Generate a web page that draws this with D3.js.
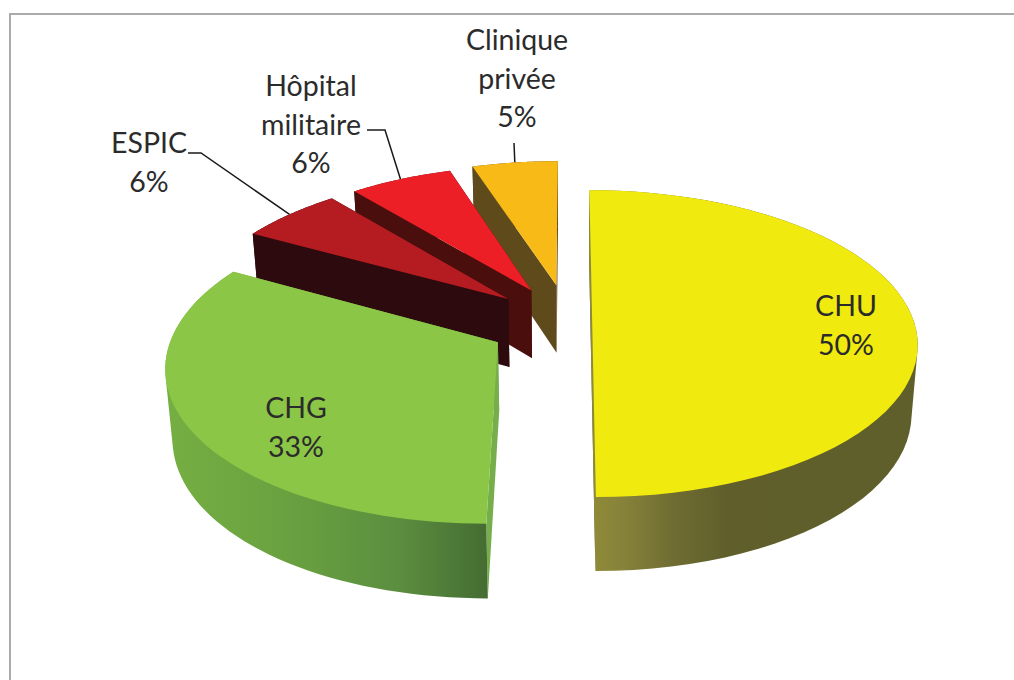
<!DOCTYPE html>
<html>
<head>
<meta charset="utf-8">
<script src="https://cdn.jsdelivr.net/npm/d3@7"></script>
<style>
  html, body { margin: 0; padding: 0; background: #fff; overflow: hidden; }
  text { font-family: Lato, "Open Sans", sans-serif; font-size: 28.5px; fill: #2b2b2b; }
</style>
</head>
<body>
<div id="chart"></div>
<script>
// chart values
const categories = ["CHU", "CHG", "ESPIC", "Hôpital militaire", "Clinique privée"];
const values = [50, 33, 6, 6, 5];
const labelLines = [["CHU", "50%"], ["CHG", "33%"], ["ESPIC", "6%"], ["Hôpital", "militaire", "6%"], ["Clinique", "privée", "5%"]];

// colours for top, cut faces and outer wall of every slice
const topColors = ["#f0ea0e", "#8cc646", "#b41c22", "#ed1f26", "#f8ba16"];
const faceColors = ["#67652c", "#76ae4b", "#2d0a0d", "#4a0e0d", "#5f4a1b"];

// how far each slice is pulled out of the pie
const explode = [0.072, 0.252, 0.25, 0.25, 0.26];

// set svg dimensions
const svgWidth = 1014;
const svgHeight = 680;

let svg = d3.select("#chart")
  .append("svg")
  .attr("width", svgWidth)
  .attr("height", svgHeight);

// perspective of the pie, fitted on the reference
const vanishX = 569, vanishY = -771;
const radiusX = 322, planeD = 1093.5, tilt = 0.1377, depth = 68.7, shrink = 0.982;

function project(i, angle, r, bottom) {
  const mid = (slices[i].startAngle + slices[i].endAngle) / 2;
  const X = r * Math.sin(angle) + explode[i] * Math.sin(mid);
  const V = r * Math.cos(angle) + explode[i] * Math.cos(mid);
  const w = 1 + tilt * V;
  const x = radiusX * X / w;
  const y = vanishY + planeD / w;
  if (!bottom) return [vanishX + x, y];
  return [vanishX + x * shrink, y + depth / Math.sqrt(w)];
}

const slices = d3.pie().sort(null).value(d => d)(values);
const line = d3.line();
const arcPts = (i, bottom) => {
  const s = slices[i];
  return d3.range(0, 61).map(k => project(i, s.startAngle + (s.endAngle - s.startAngle) * k / 60, 1, bottom));
};

// gradients on the outer walls
const defs = svg.append("defs");
function wallGradient(id, x1, x2, stops) {
  const g = defs.append("linearGradient").attr("id", id)
    .attr("gradientUnits", "userSpaceOnUse")
    .attr("x1", x1).attr("x2", x2).attr("y1", 0).attr("y2", 0);
  stops.forEach(s => g.append("stop").attr("offset", s[0]).attr("stop-color", s[1]));
}
wallGradient("wall0", 595, 910, [[0, "#8f8a38"], [0.1, "#85813a"], [0.25, "#6f6c32"], [0.42, "#605f2c"], [1, "#5f5f2c"]]);
wallGradient("wall1", 170, 488, [[0, "#75ae42"], [0.4, "#68a040"], [0.72, "#5b8e3f"], [1, "#456c32"]]);
const wallFill = ["url(#wall0)", "url(#wall1)", faceColors[2], faceColors[3], faceColors[4]];

// frame
svg.append("path")
  .attr("d", "M10,680V14H1014")
  .attr("fill", "none")
  .attr("stroke", "#ababab")
  .attr("stroke-width", 2);

// leader lines go under the slices
const leaders = [null, null, [[188, 153], [201, 153]], [[367, 130], [385, 130]], [[514, 143]]];
leaders.forEach((pts, i) => {
  if (!pts) return;
  const mid = (slices[i].startAngle + slices[i].endAngle) / 2;
  svg.append("path")
    .attr("d", line(pts.concat([project(i, mid, 1, false)])))
    .attr("fill", "none")
    .attr("stroke", "#1a1a1a")
    .attr("stroke-width", 1.5);
});

// back slices first so the front ones cover them
d3.range(slices.length - 1, -1, -1).forEach(i => {
  const s = slices[i];
  const g = svg.append("g").attr("class", "slice");
  const apexTop = project(i, 0, 0, false);
  const apexBottom = project(i, 0, 0, true);
  [s.endAngle, s.startAngle].forEach(a => {
    g.append("path")
      .attr("d", line([apexTop, project(i, a, 1, false), project(i, a, 1, true), apexBottom]) + "Z")
      .attr("fill", faceColors[i]);
  });
  // hull of both rims, the top face hides what is not wall
  g.append("path")
    .attr("d", line(d3.polygonHull(arcPts(i, false).concat(arcPts(i, true)))) + "Z")
    .attr("fill", wallFill[i]);
  g.append("path")
    .attr("d", line([apexTop].concat(arcPts(i, false))) + "Z")
    .attr("fill", topColors[i]);
});

// labels
const labelX = [846, 296, 149, 311, 517];
const labelY = [316, 418, 153, 96, 50];
const lineStep = 38.7;
labelLines.forEach((lines, i) => {
  const t = svg.append("text").attr("text-anchor", "middle");
  lines.forEach((l, k) => {
    t.append("tspan")
      .attr("x", labelX[i])
      .attr("y", labelY[i] + k * lineStep)
      .text(l);
  });
});
</script>
</body>
</html>
